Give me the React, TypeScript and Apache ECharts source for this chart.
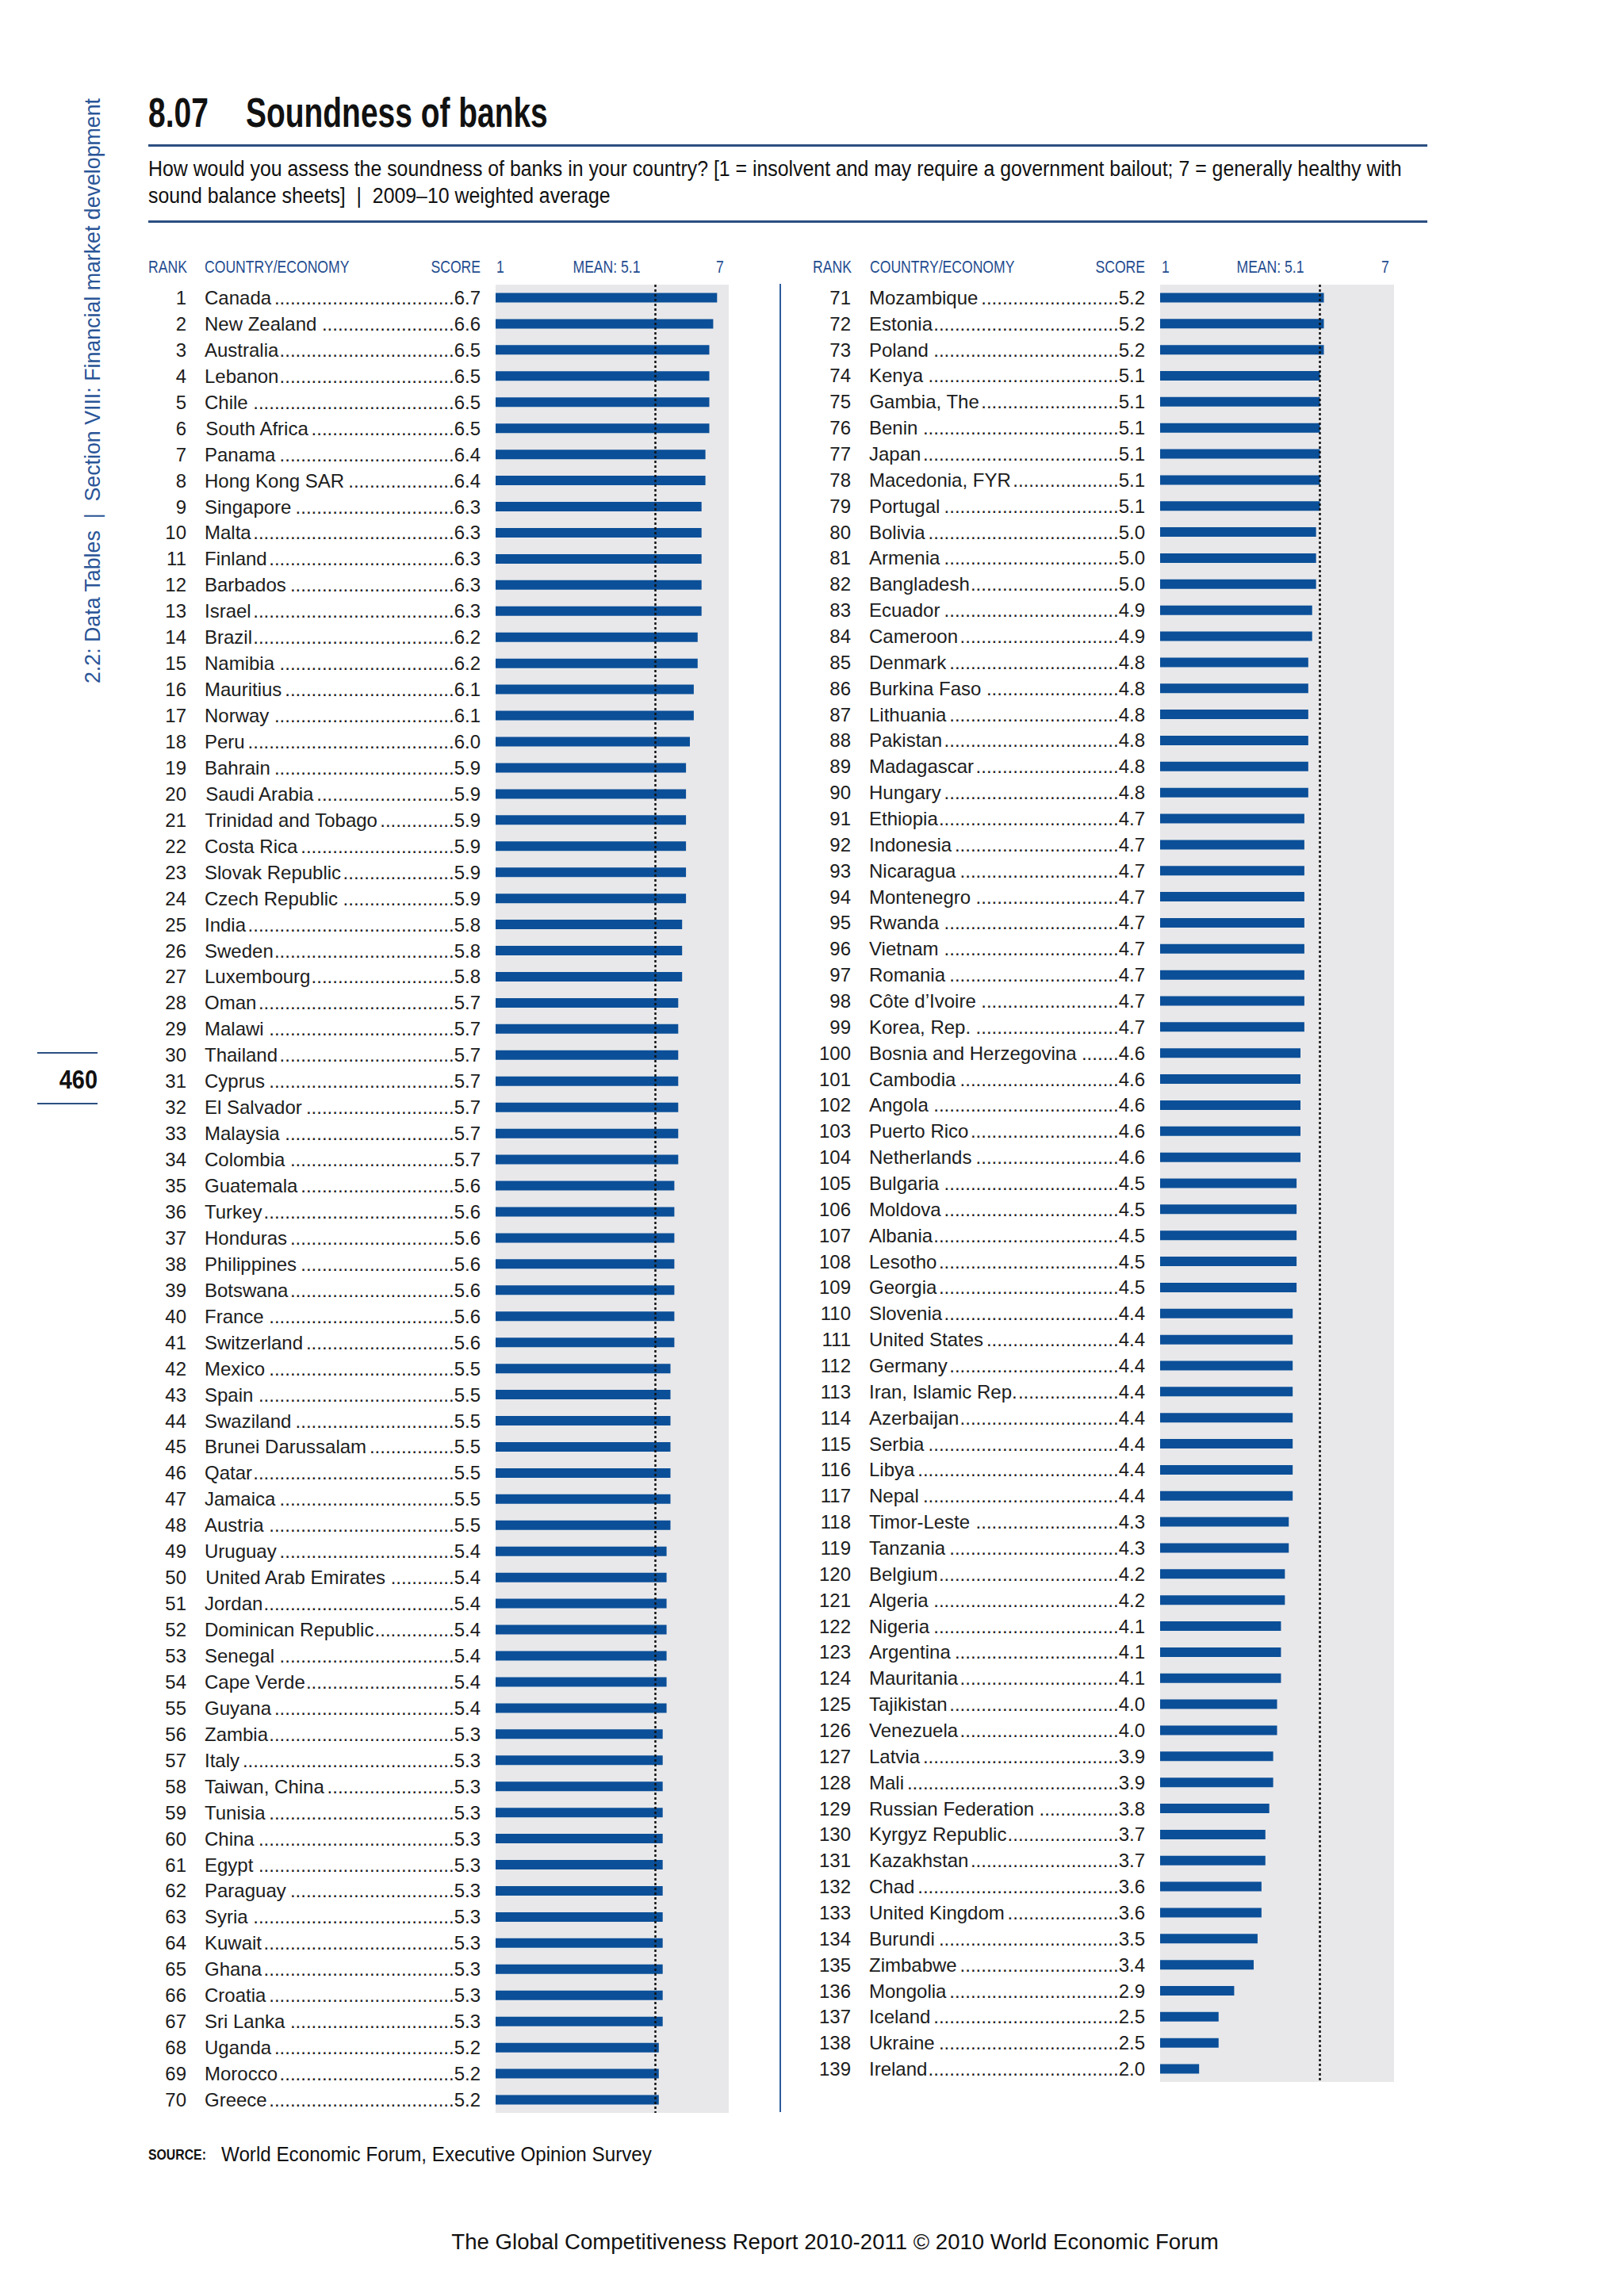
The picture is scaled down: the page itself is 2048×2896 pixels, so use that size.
import React, { useEffect, useRef } from "react";
import * as echarts from "echarts";

// ---------------- DATA ----------------
const leftCountries = [
  "Canada", "New Zealand", "Australia", "Lebanon", "Chile", "South Africa", "Panama", "Hong Kong SAR",
  "Singapore", "Malta", "Finland", "Barbados", "Israel", "Brazil", "Namibia", "Mauritius", "Norway",
  "Peru", "Bahrain", "Saudi Arabia", "Trinidad and Tobago", "Costa Rica", "Slovak Republic",
  "Czech Republic", "India", "Sweden", "Luxembourg", "Oman", "Malawi", "Thailand", "Cyprus",
  "El Salvador", "Malaysia", "Colombia", "Guatemala", "Turkey", "Honduras", "Philippines", "Botswana",
  "France", "Switzerland", "Mexico", "Spain", "Swaziland", "Brunei Darussalam", "Qatar", "Jamaica",
  "Austria", "Uruguay", "United Arab Emirates", "Jordan", "Dominican Republic", "Senegal", "Cape Verde",
  "Guyana", "Zambia", "Italy", "Taiwan, China", "Tunisia", "China", "Egypt", "Paraguay", "Syria",
  "Kuwait", "Ghana", "Croatia", "Sri Lanka", "Uganda", "Morocco", "Greece",
];
const leftScores = [
  6.7, 6.6, 6.5, 6.5, 6.5, 6.5, 6.4, 6.4, 6.3, 6.3, 6.3, 6.3, 6.3, 6.2, 6.2, 6.1, 6.1, 6.0, 5.9, 5.9,
  5.9, 5.9, 5.9, 5.9, 5.8, 5.8, 5.8, 5.7, 5.7, 5.7, 5.7, 5.7, 5.7, 5.7, 5.6, 5.6, 5.6, 5.6, 5.6, 5.6,
  5.6, 5.5, 5.5, 5.5, 5.5, 5.5, 5.5, 5.5, 5.4, 5.4, 5.4, 5.4, 5.4, 5.4, 5.4, 5.3, 5.3, 5.3, 5.3, 5.3,
  5.3, 5.3, 5.3, 5.3, 5.3, 5.3, 5.3, 5.2, 5.2, 5.2,
];
const rightCountries = [
  "Mozambique", "Estonia", "Poland", "Kenya", "Gambia, The", "Benin", "Japan", "Macedonia, FYR",
  "Portugal", "Bolivia", "Armenia", "Bangladesh", "Ecuador", "Cameroon", "Denmark", "Burkina Faso",
  "Lithuania", "Pakistan", "Madagascar", "Hungary", "Ethiopia", "Indonesia", "Nicaragua", "Montenegro",
  "Rwanda", "Vietnam", "Romania", "Côte d’Ivoire", "Korea, Rep.", "Bosnia and Herzegovina", "Cambodia",
  "Angola", "Puerto Rico", "Netherlands", "Bulgaria", "Moldova", "Albania", "Lesotho", "Georgia",
  "Slovenia", "United States", "Germany", "Iran, Islamic Rep.", "Azerbaijan", "Serbia", "Libya",
  "Nepal", "Timor-Leste", "Tanzania", "Belgium", "Algeria", "Nigeria", "Argentina", "Mauritania",
  "Tajikistan", "Venezuela", "Latvia", "Mali", "Russian Federation", "Kyrgyz Republic", "Kazakhstan",
  "Chad", "United Kingdom", "Burundi", "Zimbabwe", "Mongolia", "Iceland", "Ukraine", "Ireland",
];
const rightScores = [
  5.2, 5.2, 5.2, 5.1, 5.1, 5.1, 5.1, 5.1, 5.1, 5.0, 5.0, 5.0, 4.9, 4.9, 4.8, 4.8, 4.8, 4.8, 4.8, 4.8,
  4.7, 4.7, 4.7, 4.7, 4.7, 4.7, 4.7, 4.7, 4.7, 4.6, 4.6, 4.6, 4.6, 4.6, 4.5, 4.5, 4.5, 4.5, 4.5, 4.4,
  4.4, 4.4, 4.4, 4.4, 4.4, 4.4, 4.4, 4.3, 4.3, 4.2, 4.2, 4.1, 4.1, 4.1, 4.0, 4.0, 3.9, 3.9, 3.8, 3.7,
  3.7, 3.6, 3.6, 3.5, 3.4, 2.9, 2.5, 2.5, 2.0,
];
const leftRanks = leftCountries.map((_, i) => String(i + 1));
const rightRanks = rightCountries.map((_, i) => String(leftCountries.length + i + 1));
const MEAN = 5.1;
const AXIS_MIN = 1;
const AXIS_MAX = 7;
const scaleLabels = ["1", "MEAN: 5.1", "7"];
const headerLabels = ["RANK", "COUNTRY/ECONOMY", "SCORE"];

const TITLE_NUM = "8.07";
const TITLE = "Soundness of banks";
const SUB1 =
  "How would you assess the soundness of banks in your country? [1 = insolvent and may require a government bailout; 7 = generally healthy with";
const SUB2 = "sound balance sheets]  |  2009–10 weighted average";
const SIDE = "2.2: Data Tables  |  Section VIII: Financial market development";
const PAGE = "460";
const SOURCE_LABEL = "SOURCE:";
const SOURCE = "World Economic Forum, Executive Opinion Survey";
const FOOTER = "The Global Competitiveness Report 2010-2011 © 2010 World Economic Forum";

// ---------------- STYLE ----------------
const FONT = "'Liberation Sans', Arial, Helvetica, sans-serif";
const BAR = "#0b4f98";
const GRAY = "#e8e8ea";
const BLUE = "#1f4c8f";
const RULE = "#2c4f82";
const TEXT = "#1c1c1c";
const ROW_FS = 24;
const LABEL_W = 348;

let _ctx: CanvasRenderingContext2D | null = null;
function tw(text: string, size: number, weight = "normal") {
  if (!_ctx) _ctx = document.createElement("canvas").getContext("2d");
  _ctx!.font = `normal ${weight} ${size}px ${FONT}`;
  return _ctx!.measureText(text).width;
}

function txt(
  text: string,
  x: number,
  y: number,
  size: number,
  o: { weight?: string; color?: string; align?: string; sx?: number; fit?: number; rotation?: number } = {}
) {
  const weight = o.weight || "normal";
  let sx = o.sx ?? 1;
  if (o.fit) sx = o.fit / tw(text, size, weight);
  const align = o.align || "left";
  return {
    type: "text",
    x,
    y,
    scaleX: sx,
    rotation: o.rotation || 0,
    silent: true,
    style: {
      text,
      fill: o.color || TEXT,
      font: `normal ${weight} ${size}px ${FONT}`,
      textAlign: align,
      align,
      textVerticalAlign: "middle",
      verticalAlign: "middle",
    },
  };
}

function buildLabels(names: string[], scores: number[], prefix: string) {
  const rich: any = {
    n: { fontSize: ROW_FS, fontFamily: FONT, color: TEXT },
    s: { fontSize: ROW_FS, fontFamily: FONT, color: TEXT, align: "right" },
  };
  const dotW = tw(".", ROW_FS);
  const labels = names.map((name, i) => {
    const s = scores[i].toFixed(1);
    const box = LABEL_W - tw(name, ROW_FS) - tw(s, ROW_FS);
    const cnt = Math.max(0, Math.floor((box - 1) / dotW));
    const key = `${prefix}${i}`;
    rich[key] = { fontSize: ROW_FS, fontFamily: FONT, color: TEXT, width: box, align: "right" };
    return `{n|${name}}{${key}|${".".repeat(cnt)}}{s|${s}}`;
  });
  return { labels, rich };
}

export default function App() {
  const ref = useRef<HTMLDivElement>(null);
  useEffect(() => {
    if (!ref.current) return;
    const chart = echarts.init(ref.current, undefined, { renderer: "svg" });

    const L = buildLabels(leftCountries, leftScores, "dl");
    const R = buildLabels(rightCountries, rightScores, "dr");

    const grids = [
      { left: 625, top: 359, width: 294, height: 2306 },
      { left: 1463, top: 359, width: 295, height: 2267 },
    ];

    const nameAxis = (gi: number, data: string[], lab: { labels: string[]; rich: any }) => ({
      type: "category",
      gridIndex: gi,
      position: "left",
      inverse: true,
      data,
      axisLine: { show: false },
      axisTick: { show: false },
      splitLine: { show: false },
      axisLabel: {
        interval: 0,
        margin: 19,
        fontSize: ROW_FS,
        fontFamily: FONT,
        color: TEXT,
        formatter: (_v: string, idx: number) => lab.labels[idx],
        rich: lab.rich,
      },
    });
    const rankAxis = (gi: number, data: string[]) => ({
      type: "category",
      gridIndex: gi,
      position: "left",
      inverse: true,
      data,
      axisLine: { show: false },
      axisTick: { show: false },
      splitLine: { show: false },
      axisLabel: { interval: 0, margin: 390, fontSize: ROW_FS, fontFamily: FONT, color: TEXT },
    });
    const valAxis = (gi: number) => ({
      type: "value",
      gridIndex: gi,
      min: AXIS_MIN,
      max: AXIS_MAX,
      axisLine: { show: false },
      axisTick: { show: false },
      axisLabel: { show: false },
      splitLine: { show: false },
    });
    const barSeries = (xi: number, yi: number, data: number[]) => ({
      type: "bar",
      xAxisIndex: xi,
      yAxisIndex: yi,
      data,
      barWidth: 12,
      clip: true,
      itemStyle: { color: BAR },
      emphasis: { disabled: true },
      markLine: {
        silent: true,
        symbol: ["none", "none"],
        label: { show: false },
        lineStyle: { color: "#111", width: 2.5, type: [3, 3] },
        data: [{ xAxis: MEAN }],
      },
    });

    const hdrY = 336;
    const HF = 22;
    const HS = 0.8;
    const hdr = (x0: number, name0: number, scoreR: number, one: number, mean: number, seven: number) => [
      txt(headerLabels[0], x0, hdrY, HF, { color: BLUE, sx: HS }),
      txt(headerLabels[1], name0, hdrY, HF, { color: BLUE, sx: HS }),
      txt(headerLabels[2], scoreR, hdrY, HF, { color: BLUE, sx: HS, align: "right" }),
      txt(scaleLabels[0], one, hdrY, HF, { color: BLUE, sx: HS, align: "center" }),
      txt(scaleLabels[1], mean, hdrY, HF, { color: BLUE, sx: HS, align: "center" }),
      txt(scaleLabels[2], seven, hdrY, HF, { color: BLUE, sx: HS, align: "center" }),
    ];

    const subScale = 1582 / tw(SUB1, 28);

    const graphic: any[] = [
      txt(TITLE_NUM, 187, 142, 52, { weight: "bold", sx: 0.75, color: "#111" }),
      txt(TITLE, 310, 142, 52, { weight: "bold", fit: 381, color: "#111" }),
      { type: "rect", silent: true, shape: { x: 187, y: 182, width: 1613, height: 3 }, style: { fill: RULE } },
      txt(SUB1, 187, 212, 28, { sx: subScale, color: "#111" }),
      txt(SUB2, 187, 246, 28, { sx: subScale, color: "#111" }),
      { type: "rect", silent: true, shape: { x: 187, y: 278, width: 1613, height: 3 }, style: { fill: RULE } },
      ...hdr(187, 258, 606, 631, 765, 908),
      ...hdr(1025, 1097, 1444, 1470, 1602, 1747),
      { type: "rect", silent: true, shape: { x: 983, y: 358, width: 2, height: 2306 }, style: { fill: "#2d5c9e" } },
      txt(SIDE, 116, 493, 28, { color: "#2a5597", fit: 739, rotation: Math.PI / 2, align: "center" }),
      { type: "rect", silent: true, shape: { x: 47, y: 1327, width: 76, height: 2 }, style: { fill: RULE } },
      { type: "rect", silent: true, shape: { x: 47, y: 1391, width: 76, height: 2 }, style: { fill: RULE } },
      txt(PAGE, 123, 1361, 34, { weight: "bold", sx: 0.85, align: "right", color: "#111" }),
      txt(SOURCE_LABEL, 187, 2717, 19, { weight: "bold", fit: 73, color: "#111" }),
      txt(SOURCE, 279, 2717, 26, { fit: 543, color: "#111" }),
      txt(FOOTER, 1053, 2827, 28, { fit: 968, align: "center", color: "#111" }),
    ];

    chart.setOption({
      animation: false,
      backgroundColor: "#ffffff",
      grid: grids.map((g) => ({ ...g, show: true, backgroundColor: GRAY, borderWidth: 0, containLabel: false })),
      xAxis: [valAxis(0), valAxis(1)],
      yAxis: [
        nameAxis(0, leftCountries, L),
        rankAxis(0, leftRanks),
        nameAxis(1, rightCountries, R),
        rankAxis(1, rightRanks),
      ],
      series: [barSeries(0, 0, leftScores), barSeries(1, 2, rightScores)],
      graphic,
    });
    return () => chart.dispose();
  }, []);
  return (
    <div
      ref={ref}
      style={{ position: "absolute", left: 0, top: 0, width: 2048, height: 2896, background: "#fff" }}
    />
  );
}
